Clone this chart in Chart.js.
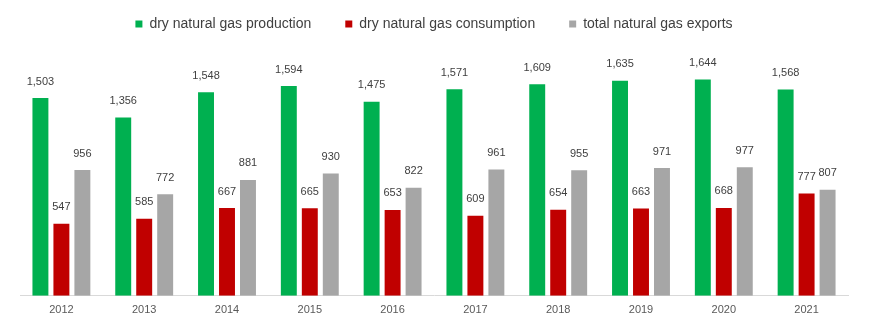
<!DOCTYPE html>
<html>
<head>
<meta charset="utf-8">
<script src="https://cdn.jsdelivr.net/npm/chart.js@4"></script>
<style>
  html, body { margin: 0; padding: 0; background: #fff; }
  #wrap { width: 870px; height: 327px; position: relative; }
</style>
</head>
<body>
<div id="wrap"><canvas id="gasChart"></canvas></div>
<script>
const years = ['2012', '2013', '2014', '2015', '2016', '2017', '2018', '2019', '2020', '2021'];
const production = [1503, 1356, 1548, 1594, 1475, 1571, 1609, 1635, 1644, 1568];
const consumption = [547, 585, 667, 665, 653, 609, 654, 663, 668, 777];
const exportsTotal = [956, 772, 881, 930, 822, 961, 955, 971, 977, 807];

// value labels above each bar
const barLabels = {
    id: 'barLabels',
    afterDatasetsDraw(chart) {
        const ctx = chart.ctx;
        ctx.save();
        ctx.font = '11px "Liberation Sans", Arial, sans-serif';
        ctx.fillStyle = '#404040';
        ctx.textAlign = 'center';
        ctx.textBaseline = 'bottom';
        chart.data.datasets.forEach((ds, i) => {
            const meta = chart.getDatasetMeta(i);
            meta.data.forEach((bar, j) => {
                ctx.fillText(ds.data[j].toLocaleString('en-US'), bar.x, bar.y - 11);
            });
        });
        ctx.restore();
    }
};

const ctx = document.getElementById('gasChart').getContext('2d');
new Chart(ctx, {
    type: 'bar',
    data: {
        labels: years,
        datasets: [
            { label: 'dry natural gas production', data: production, backgroundColor: '#00b050' },
            { label: 'dry natural gas consumption', data: consumption, backgroundColor: '#c00000' },
            { label: 'total natural gas exports', data: exportsTotal, backgroundColor: '#a6a6a6' }
        ]
    },
    options: {
        responsive: true,
        maintainAspectRatio: false,
        animation: false,
        categoryPercentage: 0.76,
        barPercentage: 0.76,
        layout: { padding: { left: 20, right: 22, top: -17, bottom: 10 } },
        plugins: {
            legend: {
                position: 'top',
                labels: {
                    boxWidth: 7,
                    boxHeight: 7,
                    padding: 34,
                    color: '#404040',
                    font: { family: '"Liberation Sans", Arial, sans-serif', size: 14 }
                }
            },
            tooltip: { enabled: false }
        },
        scales: {
            x: {
                grid: { display: false },
                border: { color: '#d9d9d9', width: 1 },
                ticks: {
                    color: '#595959',
                    padding: 0,
                    font: { family: '"Liberation Sans", Arial, sans-serif', size: 11 }
                }
            },
            y: {
                display: false,
                min: 0,
                max: 1937
            }
        }
    },
    plugins: [barLabels]
});
</script>
</body>
</html>
